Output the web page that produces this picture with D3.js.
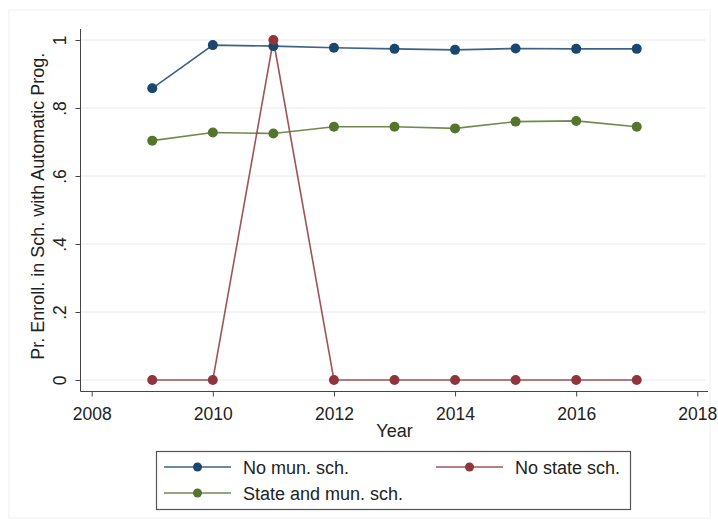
<!DOCTYPE html>
<html><head><meta charset="utf-8">
<script src="https://cdn.jsdelivr.net/npm/d3@7"></script>
<style>body{margin:0;background:#fff}svg{display:block}text{font-family:"Liberation Sans",Arial,sans-serif;fill:#222}</style>
</head><body><svg id="c" width="718" height="527"></svg>
<script>
const years = [2009,2010,2011,2012,2013,2014,2015,2016,2017];
const noMun = [0.858,0.985,0.982,0.977,0.974,0.971,0.975,0.974,0.974];
const noState = [0,0,1,0,0,0,0,0,0];
const stateMun = [0.704,0.728,0.725,0.745,0.745,0.740,0.760,0.762,0.745];
const xTicks = [2008,2010,2012,2014,2016,2018];
const yTicks = [0,0.2,0.4,0.6,0.8,1];
const yTickLabels = ["0",".2",".4",".6",".8","1"];
const seriesNames = ["No mun. sch.","No state sch.","State and mun. sch."];
const colors = ["#1a476f","#90353b","#55752f"];

const svg = d3.select("#c");
svg.append("rect").attr("x",9).attr("y",10).attr("width",701).attr("height",508)
  .attr("fill","#fff").attr("stroke","#f0f0f0");
const x = d3.scaleLinear().domain([2008,2018]).range([91.7,697.3]);
const y = d3.scaleLinear().domain([0,1]).range([380,40]);
const L=80.5, R=708, T=29, B=391.5;

// gridlines
svg.append("g").selectAll("line").data(yTicks).join("line")
  .attr("x1",L).attr("x2",706).attr("y1",d=>y(d)).attr("y2",d=>y(d))
  .attr("stroke","#eaeaea").attr("stroke-width",1);

// axes
const xa = svg.append("g").attr("transform",`translate(0,${B})`)
  .call(d3.axisBottom(x).tickValues(xTicks).tickFormat(d3.format("d")).tickSize(5).tickSizeOuter(0));
xa.select(".domain").attr("d",`M${L},0H${R}`).attr("stroke","#444");
xa.selectAll(".tick line").attr("stroke","#444");
xa.selectAll(".tick text").attr("font-size",17.5).attr("dy",0).attr("y",28.5).attr("fill","#222");

const ya = svg.append("g").attr("transform",`translate(${L},0)`)
  .call(d3.axisLeft(y).tickValues(yTicks).tickFormat((d,i)=>yTickLabels[i]).tickSize(5).tickSizeOuter(0));
ya.select(".domain").attr("d",`M0,${T}V${B}`).attr("stroke","#444");
ya.selectAll(".tick line").attr("stroke","#444");
ya.selectAll(".tick text").attr("font-size",17.5).attr("x",0).attr("dy",0)
  .attr("text-anchor","middle").attr("transform","translate(-15,0) rotate(-90)").attr("fill","#222");

svg.append("text").attr("x",x(2013)).attr("y",437).attr("text-anchor","middle")
  .attr("font-size",18).text("Year");
svg.append("text").attr("transform",`translate(44,${(T+B)/2-4}) rotate(-90)`)
  .attr("text-anchor","middle").attr("font-size",18).text("Pr. Enroll. in Sch. with Automatic Prog.");

const data = [noMun,noState,stateMun];
const line = d3.line().x((d,i)=>x(years[i])).y(d=>y(d));
data.forEach((s,k)=>{
  svg.append("path").datum(s).attr("d",line).attr("fill","none")
    .attr("stroke",colors[k]).attr("stroke-width",1.6).attr("stroke-opacity",0.85);
});
data.forEach((s,k)=>{
  svg.append("g").selectAll("circle").data(s).join("circle")
    .attr("cx",(d,i)=>x(years[i])).attr("cy",d=>y(d)).attr("r",5).attr("fill",colors[k]);
});

// legend
const lg = svg.append("g");
lg.append("rect").attr("x",156.5).attr("y",451.5).attr("width",474).attr("height",58)
  .attr("fill","#fff").attr("stroke","#555").attr("stroke-width",1.2);
const items = [{x1:164,x2:231,tx:243,yy:467},{x1:436,x2:503,tx:515,yy:467},{x1:164,x2:231,tx:243,yy:493}];
items.forEach((it,k)=>{
  lg.append("line").attr("x1",it.x1).attr("x2",it.x2).attr("y1",it.yy).attr("y2",it.yy)
    .attr("stroke",colors[k]).attr("stroke-width",1.6).attr("stroke-opacity",0.85);
  lg.append("circle").attr("cx",(it.x1+it.x2)/2).attr("cy",it.yy).attr("r",4.5).attr("fill",colors[k]);
  lg.append("text").attr("x",it.tx).attr("y",it.yy+6.5).attr("font-size",18).text(seriesNames[k]);
});
</script></body></html>
